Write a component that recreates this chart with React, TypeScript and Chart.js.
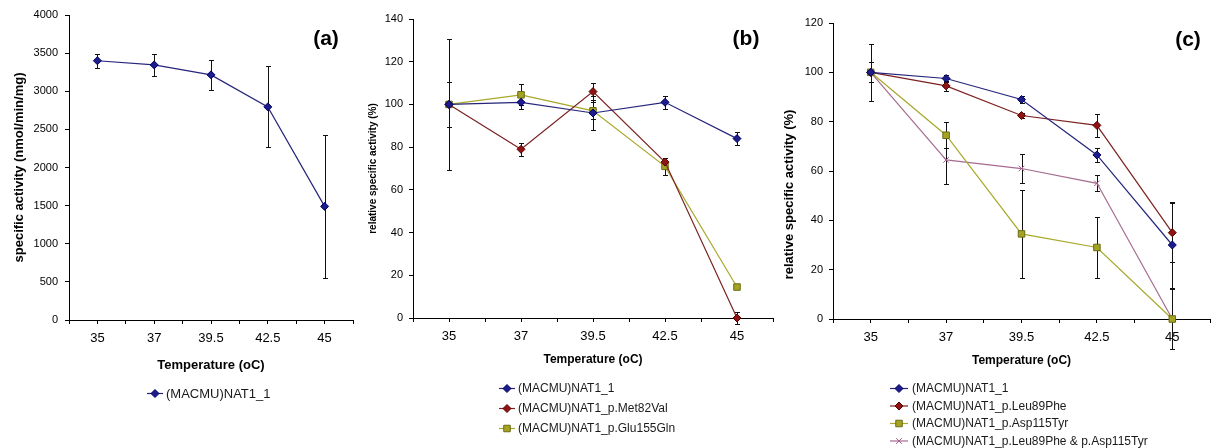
import React, { useEffect, useRef } from 'react';
import { Chart, registerables } from 'chart.js';

Chart.register(...registerables);

const FONT = "'Liberation Sans', Arial, sans-serif";

// ---- data ----
const categories = ['35', '37', '39.5', '42.5', '45'];

const aLabels = ['(MACMU)NAT1_1'];
const aNat1 = [3400, 3345, 3215, 2795, 1490];
const aNat1Err = [95, 140, 200, 530, 940];

const bLabels = ['(MACMU)NAT1_1', '(MACMU)NAT1_p.Met82Val', '(MACMU)NAT1_p.Glu155Gln'];
const bNat1 = [100, 101, 96, 101, 84];
const bNat1Err = [10.7, 3, 8, 3, 3];
const bMet82 = [100, 79, 106, 73, 0];
const bMet82Err = [0, 3, 4, 2, 3];
const bGlu155 = [100, 104.5, 97, 71, 14.5];
const bGlu155Err = [30.5, 5, 4, 4, 0];

const cLabels = [
  '(MACMU)NAT1_1',
  '(MACMU)NAT1_p.Leu89Phe',
  '(MACMU)NAT1_p.Asp115Tyr',
  '(MACMU)NAT1_p.Leu89Phe & p.Asp115Tyr',
];
const cNat1 = [100, 97.5, 89, 66.5, 30];
const cNat1Err = [4, 1.5, 1.6, 2.7, 17.5];
const cLeu89 = [100, 94.5, 82.5, 78.5, 35];
const cLeu89Err = [0, 2, 1, 4.7, 12];
const cAsp115 = [100, 74.5, 34.5, 29, 0];
const cAsp115Err = [11.5, 5.2, 17.7, 12.5, 0];
const cDouble = [100, 64.5, 61, 55, 0];
const cDoubleErr = [0, 9.7, 5.8, 3.3, 12];

// ---- styles ----
const STY = {
  blue: { line: '#25257c', fill: '#1c1c8c', stroke: '#000060', marker: 'rectRot', radius: 4 },
  red: { line: '#7c2222', fill: '#8e1414', stroke: '#5a0000', marker: 'rectRot', radius: 4 },
  olive: { line: '#a8a82c', fill: '#a4a422', stroke: '#6a6a14', marker: 'rect', radius: 4.6 },
  mauve: { line: '#a66c90', fill: '#a0608a', stroke: '#a0608a', marker: 'crossRot', radius: 4 },
};

function drawMarker(ctx: CanvasRenderingContext2D, style: string, x: number, y: number, r: number, fill: string, stroke: string) {
  ctx.save();
  ctx.fillStyle = fill;
  ctx.strokeStyle = stroke;
  ctx.lineWidth = 1;
  ctx.beginPath();
  if (style === 'rectRot') {
    ctx.moveTo(x, y - r);
    ctx.lineTo(x + r, y);
    ctx.lineTo(x, y + r);
    ctx.lineTo(x - r, y);
    ctx.closePath();
    ctx.fill();
    ctx.stroke();
  } else if (style === 'rect') {
    const s = Math.SQRT1_2 * r;
    ctx.rect(x - s, y - s, 2 * s, 2 * s);
    ctx.fill();
    ctx.stroke();
  } else {
    const s = Math.SQRT1_2 * r;
    ctx.moveTo(x - s, y - s);
    ctx.lineTo(x + s, y + s);
    ctx.moveTo(x - s, y + s);
    ctx.lineTo(x + s, y - s);
    ctx.stroke();
  }
  ctx.restore();
}

const errorBarPlugin = {
  id: 'errorBars',
  beforeDatasetsDraw(chart: any) {
    const ctx = chart.ctx as CanvasRenderingContext2D;
    const xs = chart.scales.x;
    const ys = chart.scales.y;
    ctx.save();
    ctx.strokeStyle = '#111';
    ctx.lineWidth = 1;
    chart.data.datasets.forEach((ds: any) => {
      const errs: number[] = ds.errorBars;
      if (!errs) return;
      ds.data.forEach((p: any, i: number) => {
        const e = errs[i];
        if (!e) return;
        const x = Math.round(xs.getPixelForValue(p.x)) + 0.5;
        const y1 = Math.round(ys.getPixelForValue(p.y + e)) + 0.5;
        const y2 = Math.round(ys.getPixelForValue(p.y - e)) + 0.5;
        ctx.beginPath();
        ctx.moveTo(x, y1);
        ctx.lineTo(x, y2);
        ctx.moveTo(x - 2.5, y1);
        ctx.lineTo(x + 2.5, y1);
        ctx.moveTo(x - 2.5, y2);
        ctx.lineTo(x + 2.5, y2);
        ctx.stroke();
      });
    });
    ctx.restore();
  },
};

const decorPlugin = {
  id: 'panelDecor',
  afterDraw(chart: any, _args: any, opts: any) {
    const ctx = chart.ctx as CanvasRenderingContext2D;
    ctx.save();
    // panel label
    ctx.fillStyle = '#000';
    ctx.font = `bold ${opts.labelSize}px ${FONT}`;
    ctx.textAlign = 'center';
    ctx.textBaseline = 'middle';
    ctx.fillText(opts.label, opts.labelX, opts.labelY);
    // legend
    ctx.font = `${opts.legendFont}px ${FONT}`;
    ctx.textAlign = 'left';
    chart.data.datasets.forEach((ds: any, i: number) => {
      const y = opts.legendY + i * opts.legendGap;
      ctx.strokeStyle = ds.borderColor;
      ctx.lineWidth = 1.2;
      ctx.beginPath();
      ctx.moveTo(opts.legendX, y + 0.5);
      ctx.lineTo(opts.legendX + opts.lineLen, y + 0.5);
      ctx.stroke();
      drawMarker(ctx, ds.pointStyle, opts.legendX + opts.lineLen / 2, y + 0.5, ds.pointRadius, ds.pointBackgroundColor, ds.pointBorderColor);
      ctx.fillStyle = '#1a1a1a';
      ctx.fillText(ds.label, opts.textX, y + 1);
    });
    ctx.restore();
  },
};

type Series = { label: string; values: number[]; errors: number[]; style: any };

type PanelSpec = {
  left: number;
  width: number;
  padding: { left: number; right: number; top: number; bottom: number };
  yWidth: number;
  xHeight: number;
  yMax: number;
  yStep: number;
  yTitle: string;
  yTitleSize: number;
  yTitlePad: number;
  xTitleSize: number;
  xTickPad: number;
  yTickPad: number;
  series: Series[];
  decor: any;
};

const panels: PanelSpec[] = [
  {
    left: 0,
    width: 360,
    padding: { left: 8, right: 6, top: 15, bottom: 71 },
    yWidth: 61,
    xHeight: 57,
    yMax: 4000,
    yStep: 500,
    yTitle: 'specific activity (nmol/min/mg)',
    yTitleSize: 13,
    yTitlePad: 4,
    xTitleSize: 13,
    xTickPad: 7,
    yTickPad: 7,
    series: [{ label: aLabels[0], values: aNat1, errors: aNat1Err, style: STY.blue }],
    decor: { label: '(a)', labelSize: 21, labelX: 326, labelY: 39, legendX: 147, lineLen: 16, textX: 166, legendY: 393, legendGap: 20, legendFont: 13 },
  },
  {
    left: 360,
    width: 420,
    padding: { left: 3, right: 3, top: 19, bottom: 77 },
    yWidth: 50,
    xHeight: 53,
    yMax: 140,
    yStep: 20,
    yTitle: 'relative specific activity (%)',
    yTitleSize: 10,
    yTitlePad: 4,
    xTitleSize: 12,
    xTickPad: 7,
    yTickPad: 6,
    series: [
      { label: bLabels[0], values: bNat1, errors: bNat1Err, style: STY.blue },
      { label: bLabels[1], values: bMet82, errors: bMet82Err, style: STY.red },
      { label: bLabels[2], values: bGlu155, errors: bGlu155Err, style: STY.olive },
    ],
    decor: { label: '(b)', labelSize: 21, labelX: 386, labelY: 39, legendX: 139, lineLen: 16, textX: 158, legendY: 388, legendGap: 20, legendFont: 12 },
  },
  {
    left: 780,
    width: 437,
    padding: { left: 0, right: 2, top: 23, bottom: 76 },
    yWidth: 53,
    xHeight: 53,
    yMax: 120,
    yStep: 20,
    // trailing spaces shift the centred, rotated title downward as in the reference
    yTitle: 'relative specific activity (%)' + ' '.repeat(13),
    yTitleSize: 13,
    yTitlePad: 2,
    xTitleSize: 12,
    xTickPad: 7,
    yTickPad: 6,
    series: [
      { label: cLabels[0], values: cNat1, errors: cNat1Err, style: STY.blue },
      { label: cLabels[1], values: cLeu89, errors: cLeu89Err, style: STY.red },
      { label: cLabels[2], values: cAsp115, errors: cAsp115Err, style: STY.olive },
      { label: cLabels[3], values: cDouble, errors: cDoubleErr, style: STY.mauve },
    ],
    decor: { label: '(c)', labelSize: 21, labelX: 408, labelY: 40, legendX: 110, lineLen: 18, textX: 132, legendY: 388, legendGap: 17.5, legendFont: 12 },
  },
];

function makeConfig(p: PanelSpec): any {
  return {
    type: 'line',
    data: {
      datasets: p.series.map((s) => ({
        label: s.label,
        data: s.values.map((v, i) => ({ x: i, y: v })),
        errorBars: s.errors,
        borderColor: s.style.line,
        borderWidth: 1.2,
        backgroundColor: s.style.fill,
        pointBackgroundColor: s.style.fill,
        pointBorderColor: s.style.stroke,
        pointStyle: s.style.marker,
        pointRadius: s.style.radius,
        pointBorderWidth: 1,
        tension: 0,
        clip: false,
      })),
    },
    options: {
      responsive: false,
      animation: false,
      events: [],
      layout: { padding: p.padding },
      plugins: {
        legend: { display: false },
        tooltip: { enabled: false },
        panelDecor: p.decor,
      },
      scales: {
        x: {
          type: 'linear',
          min: -0.5,
          max: 4.5,
          ticks: {
            stepSize: 0.5,
            autoSkip: false,
            maxRotation: 0,
            maxTicksLimit: 20,
            padding: p.xTickPad,
            color: '#000',
            font: { family: FONT, size: 13 },
            callback: (v: number) => (Number.isInteger(v) && v >= 0 ? categories[v] : ''),
          },
          grid: { drawOnChartArea: false, drawTicks: true, tickLength: 4, color: '#000' },
          border: { color: '#000', width: 1 },
          title: {
            display: true,
            text: 'Temperature (oC)',
            color: '#000',
            font: { family: FONT, size: p.xTitleSize, weight: 'bold' },
            padding: { top: 4, bottom: 4 },
          },
          afterFit: (s: any) => {
            s.height = p.xHeight;
          },
        },
        y: {
          type: 'linear',
          min: 0,
          max: p.yMax,
          ticks: {
            stepSize: p.yStep,
            padding: p.yTickPad,
            color: '#000',
            font: { family: FONT, size: 11 },
            callback: (v: number) => String(v),
          },
          grid: { drawOnChartArea: false, drawTicks: true, tickLength: 4, color: '#000' },
          border: { color: '#000', width: 1 },
          title: {
            display: true,
            text: p.yTitle,
            color: '#000',
            font: { family: FONT, size: p.yTitleSize, weight: 'bold' },
            padding: { top: p.yTitlePad, bottom: 4 },
          },
          afterFit: (s: any) => {
            s.width = p.yWidth;
          },
        },
      },
    },
    plugins: [errorBarPlugin, decorPlugin],
  };
}

function Panel({ spec }: { spec: PanelSpec }) {
  const ref = useRef<HTMLCanvasElement | null>(null);
  useEffect(() => {
    if (!ref.current) return;
    const chart = new Chart(ref.current, makeConfig(spec));
    return () => chart.destroy();
  }, [spec]);
  return (
    <canvas
      ref={ref}
      width={spec.width}
      height={448}
      style={{ position: 'absolute', left: spec.left, top: 0, width: spec.width, height: 448 }}
    />
  );
}

export default function App() {
  return (
    <div style={{ position: 'absolute', left: 0, top: 0, width: 1217, height: 448, background: '#fff', overflow: 'hidden' }}>
      {panels.map((p, i) => (
        <Panel key={i} spec={p} />
      ))}
    </div>
  );
}
